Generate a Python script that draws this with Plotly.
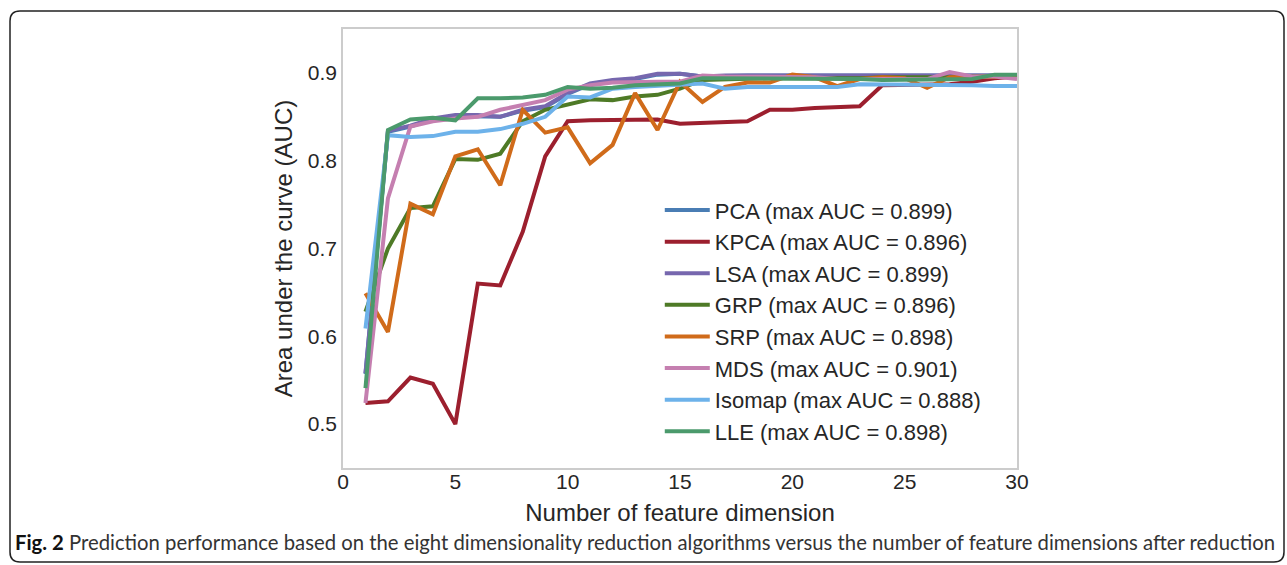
import plotly.graph_objects as go

dims = list(range(1, 31))

pca = [0.557, 0.833, 0.839, 0.847, 0.851, 0.851, 0.850, 0.857, 0.861, 0.876, 0.887, 0.891, 0.893, 0.898, 0.899, 0.896, 0.897, 0.897, 0.897, 0.897, 0.897, 0.897, 0.897, 0.897, 0.897, 0.896, 0.897, 0.897, 0.897, 0.897]
kpca = [0.524, 0.526, 0.553, 0.546, 0.500, 0.660, 0.658, 0.719, 0.805, 0.845, 0.846, 0.846, 0.847, 0.847, 0.842, 0.843, 0.845, 0.845, 0.858, 0.858, 0.860, 0.861, 0.862, 0.886, 0.886, 0.887, 0.887, 0.890, 0.894, 0.896]
lsa = [0.558, 0.834, 0.840, 0.848, 0.852, 0.852, 0.850, 0.858, 0.862, 0.877, 0.888, 0.892, 0.894, 0.899, 0.899, 0.896, 0.897, 0.897, 0.897, 0.897, 0.897, 0.897, 0.897, 0.897, 0.897, 0.896, 0.897, 0.897, 0.897, 0.897]
grp = [0.628, 0.700, 0.746, 0.748, 0.802, 0.801, 0.808, 0.845, 0.858, 0.864, 0.870, 0.869, 0.873, 0.875, 0.882, 0.892, 0.893, 0.894, 0.894, 0.894, 0.894, 0.893, 0.894, 0.895, 0.895, 0.894, 0.895, 0.896, 0.896, 0.896]
srp = [0.649, 0.605, 0.751, 0.739, 0.805, 0.813, 0.772, 0.858, 0.832, 0.838, 0.797, 0.818, 0.877, 0.835, 0.890, 0.867, 0.884, 0.889, 0.889, 0.898, 0.895, 0.885, 0.893, 0.895, 0.894, 0.883, 0.895, 0.896, 0.896, 0.895]
mds = [0.524, 0.757, 0.839, 0.845, 0.848, 0.850, 0.858, 0.864, 0.869, 0.881, 0.886, 0.889, 0.890, 0.890, 0.890, 0.897, 0.896, 0.896, 0.896, 0.896, 0.895, 0.893, 0.893, 0.893, 0.894, 0.893, 0.901, 0.896, 0.896, 0.893]
isomap = [0.609, 0.829, 0.827, 0.828, 0.833, 0.833, 0.836, 0.842, 0.850, 0.873, 0.872, 0.882, 0.884, 0.885, 0.886, 0.888, 0.882, 0.884, 0.884, 0.884, 0.884, 0.884, 0.887, 0.887, 0.887, 0.887, 0.886, 0.886, 0.885, 0.885]
lle = [0.541, 0.835, 0.847, 0.849, 0.846, 0.871, 0.871, 0.872, 0.875, 0.884, 0.882, 0.883, 0.886, 0.887, 0.888, 0.894, 0.894, 0.894, 0.894, 0.894, 0.893, 0.893, 0.893, 0.892, 0.892, 0.892, 0.893, 0.893, 0.898, 0.898]

names = ["PCA (max AUC = 0.899)", "KPCA (max AUC = 0.896)", "LSA (max AUC = 0.899)",
         "GRP (max AUC = 0.896)", "SRP (max AUC = 0.898)", "MDS (max AUC = 0.901)",
         "Isomap (max AUC = 0.888)", "LLE (max AUC = 0.898)"]
series = [pca, kpca, lsa, grp, srp, mds, isomap, lle]
colors = ["#4a7db4", "#9c1f2e", "#7667ae", "#4e7a26", "#d06b1a", "#c57fb0", "#6db2ea", "#4b9a6c"]

x_ticks = [0, 5, 10, 15, 20, 25, 30]
y_ticks = [0.5, 0.6, 0.7, 0.8, 0.9]

fig = go.Figure()
for n, s, c in zip(names, series, colors):
    fig.add_trace(go.Scatter(x=dims, y=s, name=n, mode="lines",
                             line=dict(color=c, width=4)))

W, H = 1287, 565
L, R, T, B = 343, 1017, 29, 468

def px(xp):
    return (xp - L) / (R - L)

def py(yp):
    return (B - yp) / (B - T)

# rounded outer border
x0, x1, y0, y1, r = 10, 1284, 11, 562, 10
path = (f"M {px(x0)},{py(y0 + r)} Q {px(x0)},{py(y0)} {px(x0 + r)},{py(y0)} "
        f"L {px(x1 - r)},{py(y0)} Q {px(x1)},{py(y0)} {px(x1)},{py(y0 + r)} "
        f"L {px(x1)},{py(y1 - r)} Q {px(x1)},{py(y1)} {px(x1 - r)},{py(y1)} "
        f"L {px(x0 + r)},{py(y1)} Q {px(x0)},{py(y1)} {px(x0)},{py(y1 - r)} Z")

fig.update_layout(
    width=W, height=H,
    margin=dict(l=L, r=W - R, t=T, b=H - B),
    paper_bgcolor="white", plot_bgcolor="white",
    font=dict(family="Liberation Sans, Arial, sans-serif", color="#262626"),
    showlegend=True,
    legend=dict(x=0.47, y=0.635, xanchor="left", yanchor="top",
                font=dict(size=22, color="#262626"), bgcolor="rgba(0,0,0,0)",
                tracegroupgap=0, itemwidth=45),
    xaxis=dict(range=[0, 30], tickvals=x_ticks, ticktext=[str(v) for v in x_ticks],
               showgrid=False, zeroline=False, showline=True, mirror=True,
               linecolor="#cccccc", linewidth=1.5, ticks="", ticklabelstandoff=-6,
               tickfont=dict(size=21), title=dict(text="Number of feature dimension",
                                                  font=dict(size=24), standoff=12)),
    yaxis=dict(range=[0.45, 0.95], tickvals=y_ticks, ticktext=[f"{v:.1f}" for v in y_ticks],
               showgrid=False, zeroline=False, showline=True, mirror=True,
               linecolor="#cccccc", linewidth=1.5, ticks="",
               tickfont=dict(size=21), title=dict(text="Area under the curve (AUC)",
                                                  font=dict(size=24), standoff=8)),
    shapes=[dict(type="path", path=path, xref="paper", yref="paper",
                 line=dict(color="#222222", width=1.5), fillcolor="rgba(0,0,0,0)", layer="below")],
    annotations=[dict(text="<b>Fig. 2</b> <span style='color:#333333'>Prediction performance based on the eight dimensionality reduction algorithms versus the number of feature dimensions after reduction</span>",
                      xref="paper", yref="paper", x=px(13), y=py(542),
                      xanchor="left", yanchor="middle", showarrow=False,
                      font=dict(family="Lato, sans-serif", size=20.3, color="#111111"))],
)

fig.write_html("out.html")
